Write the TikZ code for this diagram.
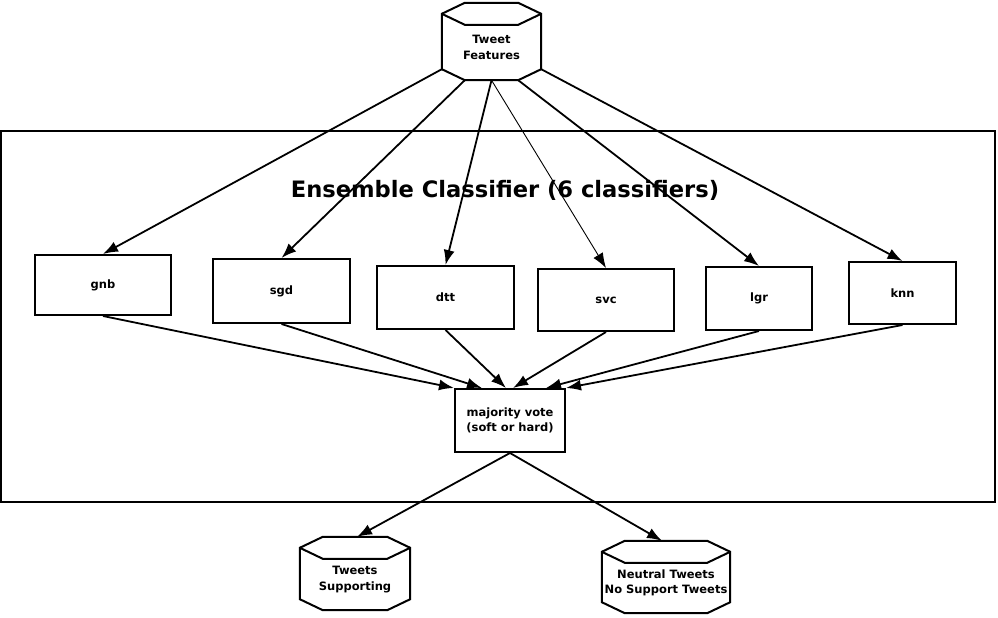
\documentclass[tikz,border=0pt]{standalone}
\usepackage{fontspec}
\setmainfont{DejaVu Sans}
\usepackage{tikz}
\usetikzlibrary{arrows.meta, positioning, calc}

% cylinder outline drawn round a named node
\newcommand{\drawstore}[1]{%
  \draw[boxline] ([yshift=-11pt]#1.north west) -- ([xshift=23pt]#1.north west)
    -- ([xshift=-23pt]#1.north east) -- ([yshift=-11pt]#1.north east)
    -- ([yshift=11pt]#1.south east) -- ([xshift=-23pt]#1.south east)
    -- ([xshift=23pt]#1.south west) -- ([yshift=11pt]#1.south west) -- cycle;
  \draw[boxline] ([yshift=-11pt]#1.north west) -- ([xshift=23pt,yshift=-22pt]#1.north west)
    -- ([xshift=-23pt,yshift=-22pt]#1.north east) -- ([yshift=-11pt]#1.north east);
}

\begin{document}
\begin{tikzpicture}[
    x=1pt, y=-1pt,
    font=\fontsize{11.5}{15.5}\selectfont\bfseries,
    boxline/.style={line width=2pt, line join=miter},
    clf/.style={draw, boxline, rectangle, inner sep=0pt},
    store/.style={rectangle, inner sep=0pt},
    txt/.style={align=center, yshift=-6pt},
    arr/.style={-{Latex[length=15pt, width=11pt]}, line width=1.8pt},
    thinarr/.style={-{Latex[length=15pt, width=11pt]}, line width=0.9pt},
    title/.style={font=\fontsize{22.6}{27}\selectfont\bfseries}
]
\useasboundingbox (0,0) rectangle (998,618);

% ---- ensemble frame ----
\draw[boxline] (1,131) rectangle (995,502);
\node[title] (ttl) at (505,190) {Ensemble Classifier (6 classifiers)};

% ---- input store ----
\node[store, minimum width=99pt, minimum height=77pt,
      label={[txt]center:Tweet\\Features}] (feat) at (491.5,41.5) {};
\drawstore{feat}

% ---- classifiers ----
\foreach \nm/\x/\y/\w/\h in {gnb/103/285/136/60, sgd/281.5/291/137/64,
    dtt/445.5/297.5/137/63, svc/606/300/136/62, lgr/759/298.5/106/63,
    knn/902.5/293/107/62} {
    \node[clf, minimum width=\w pt, minimum height=\h pt] (\nm) at (\x,\y) {\nm};
}

% ---- voting ----
\node[clf, align=center, minimum width=110pt, minimum height=63pt] (vote)
    at (510,420.5) {majority vote\\(soft or hard)};

% ---- output stores ----
\node[store, minimum width=110pt, minimum height=73pt,
      label={[txt]center:Tweets\\Supporting}] (sup) at (355,573.5) {};
\drawstore{sup}
\node[store, minimum width=128pt, minimum height=72pt,
      label={[txt]center:Neutral Tweets\\No Support Tweets}] (neu) at (666,577) {};
\drawstore{neu}

% features to classifiers
\draw[arr] ([yshift=11pt]feat.south west) -- (gnb.north);
\draw[arr] ([xshift=23pt]feat.south west) -- (sgd.north);
\draw[arr] (feat.south) -- (dtt.north);
\draw[thinarr] (feat.south) -- (svc.north);
\draw[arr] ([xshift=-23pt]feat.south east) -- (lgr.north);
\draw[arr] ([yshift=11pt]feat.south east) -- (knn.north);

% classifiers to vote
\draw[arr] (gnb.south) -- (vote.north west);
\draw[arr] (sgd.south) -- ([xshift=28pt]vote.north west);
\draw[arr] (dtt.south) -- ([xshift=-4pt]vote.north);
\draw[arr] (svc.south) -- ([xshift=3pt]vote.north);
\draw[arr] (lgr.south) -- ([xshift=-20pt]vote.north east);
\draw[arr] (knn.south) -- (vote.north east);

% vote to outputs
\draw[arr] (vote.south) -- ([xshift=2pt]sup.north);
\draw[arr] (vote.south) -- ([xshift=-4pt]neu.north);

\end{tikzpicture}
\end{document}
